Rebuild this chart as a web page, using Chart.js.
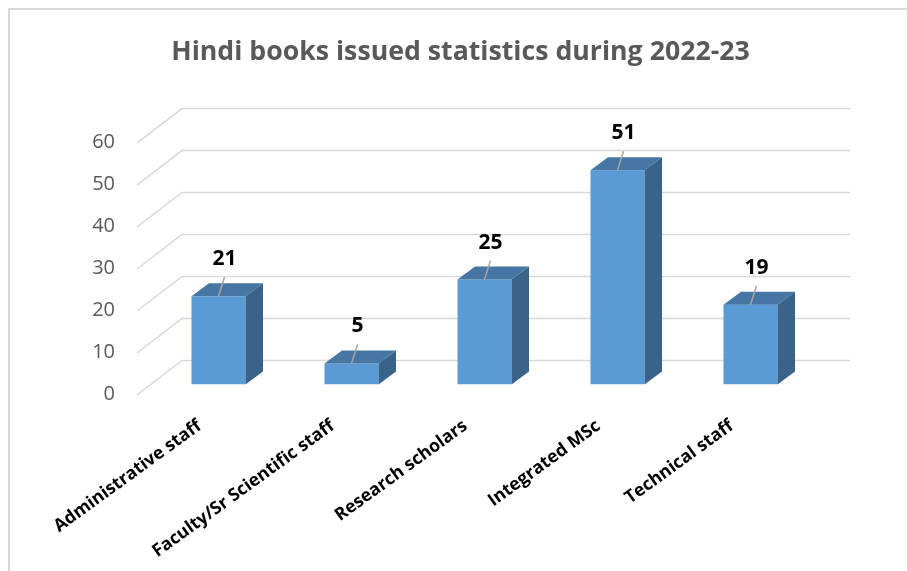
<!DOCTYPE html>
<html>
<head>
<meta charset="utf-8">
<script src="https://cdn.jsdelivr.net/npm/chart.js@4.4.1/dist/chart.umd.min.js"></script>
<style>
  html, body { margin: 0; padding: 0; background: #fff; }
  #wrap { position: relative; width: 907px; height: 571px; }
</style>
</head>
<body>
<div id="wrap"><canvas id="chartBooks"></canvas></div>
<script>
const categories = [
  "Administrative staff",
  "Faculty/Sr Scientific staff",
  "Research scholars",
  "Integrated MSc",
  "Technical staff",
];
const booksIssued = [21, 5, 25, 51, 19];
const yMin = 0;
const yMax = 60;
const yStep = 10;

const chartBooksElement = document.querySelector("#chartBooks");

// fake 3D look: depth of the bars and of the floor/walls
const barDepth = { dx: 17.5, dy: -13 };

const frameBorder = {
  id: "frameBorder",
  beforeDraw: (chart) => {
    const ctx = chart.ctx;
    ctx.save();
    ctx.strokeStyle = "#d9d9d9";
    ctx.lineWidth = 2;
    ctx.beginPath();
    ctx.moveTo(9, chart.height);
    ctx.lineTo(9, 9);
    ctx.lineTo(chart.width, 9);
    ctx.stroke();
    ctx.restore();
  },
};

const wallGrid = {
  id: "wallGrid",
  beforeDatasetsDraw: (chart) => {
    const { ctx, chartArea, scales } = chart;
    ctx.save();
    ctx.strokeStyle = "#d9d9d9";
    ctx.lineWidth = 1.5;
    scales.y.ticks.forEach((tick) => {
      const yF = scales.y.getPixelForValue(tick.value);
      ctx.beginPath();
      ctx.moveTo(chartArea.left - 15, yF + 10.5);
      ctx.lineTo(chartArea.left + 30, yF - 24);
      ctx.lineTo(chartArea.right + 33, yF - 24);
      ctx.stroke();
    });
    ctx.restore();
  },
};

const bars3d = {
  id: "bars3d",
  afterDatasetsDraw: (chart) => {
    const ctx = chart.ctx;
    const meta = chart.getDatasetMeta(0);
    ctx.save();
    meta.data.forEach((bar, i) => {
      const { x, y, base, width } = bar.getProps(["x", "y", "base", "width"], true);
      const left = x - width / 2;
      const right = x + width / 2;
      const { dx, dy } = barDepth;

      // top face
      ctx.fillStyle = "#4576a4";
      ctx.beginPath();
      ctx.moveTo(left, y);
      ctx.lineTo(left + dx, y + dy);
      ctx.lineTo(right + dx, y + dy);
      ctx.lineTo(right, y);
      ctx.closePath();
      ctx.fill();

      // side face
      ctx.fillStyle = "#3a6389";
      ctx.beginPath();
      ctx.moveTo(right, y);
      ctx.lineTo(right + dx, y + dy);
      ctx.lineTo(right + dx, base + dy);
      ctx.lineTo(right, base);
      ctx.closePath();
      ctx.fill();

      // leader line + value
      ctx.strokeStyle = "#a6a6a6";
      ctx.lineWidth = 1.5;
      ctx.beginPath();
      ctx.moveTo(x, y);
      ctx.lineTo(x + 6, y - 19);
      ctx.stroke();

      ctx.fillStyle = "#000";
      ctx.font = "bold 21px 'Open Sans'";
      ctx.textAlign = "center";
      ctx.textBaseline = "middle";
      ctx.fillText(String(booksIssued[i]), x + 6, y - 37);
    });
    ctx.restore();
  },
};

const chartBooks = new Chart(chartBooksElement, {
  type: "bar",
  data: {
    labels: categories,
    datasets: [
      {
        label: "Books issued",
        data: booksIssued,
        backgroundColor: "#5b9bd5",
        borderWidth: 0,
        categoryPercentage: 1,
        barPercentage: 0.406,
      },
    ],
  },
  options: {
    responsive: true,
    maintainAspectRatio: false,
    animation: false,
    layout: { padding: { left: 14 } },
    scales: {
      x: {
        grid: { display: false, drawTicks: false },
        border: { display: false },
        ticks: {
          color: "#000",
          font: { family: "'Open Sans'", size: 17.7, weight: "bold" },
          minRotation: 36,
          maxRotation: 36,
          padding: 31,
          labelOffset: -19,
          autoSkip: false,
        },
        afterFit: (scale) => {
          scale.height = 186.5;
        },
      },
      y: {
        min: yMin,
        max: yMax,
        grid: { display: false, drawTicks: false },
        border: { display: false },
        ticks: {
          stepSize: yStep,
          color: "#595959",
          font: { family: "'Open Sans'", size: 20 },
          padding: 37,
          labelOffset: 10,
        },
        afterFit: (scale) => {
          scale.width = 138;
        },
      },
      yRight: {
        position: "right",
        grid: { display: false, drawTicks: false },
        border: { display: false },
        ticks: { display: false },
        afterFit: (scale) => {
          scale.width = 90;
        },
      },
    },
    plugins: {
      legend: { display: false },
      tooltip: { enabled: false },
      title: {
        display: true,
        text: "Hindi books issued statistics during 2022-23",
        color: "#595959",
        font: { family: "'Open Sans'", size: 26.7, weight: "bold", lineHeight: 1.2 },
        padding: { top: 36.5, bottom: 64 },
      },
    },
  },
  plugins: [frameBorder, wallGrid, bars3d],
});
</script>
</body>
</html>
